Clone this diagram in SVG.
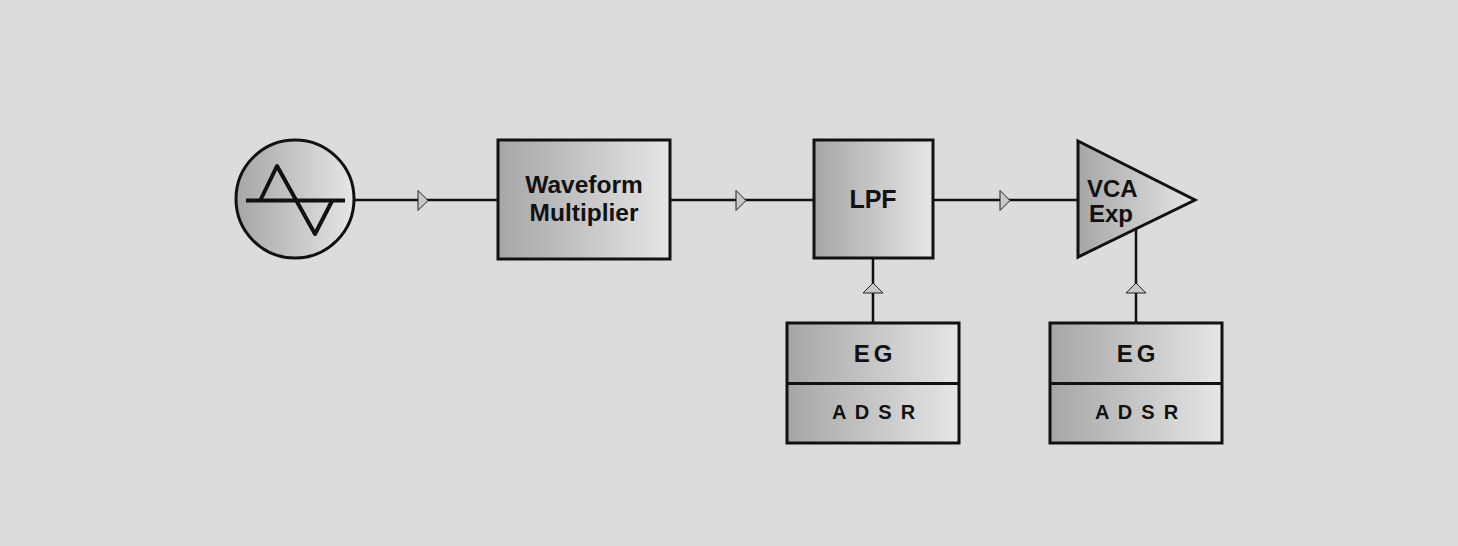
<svg xmlns="http://www.w3.org/2000/svg" width="1458" height="546" viewBox="0 0 1458 546">
<defs>
<linearGradient id="g" x1="0" y1="0" x2="1" y2="0">
<stop offset="0" stop-color="#a6a6a6"/>
<stop offset="1" stop-color="#e6e6e6"/>
</linearGradient>
<style>
.shape{fill:url(#g);stroke:#111;stroke-width:3}
.wire{fill:none;stroke:#111;stroke-width:2.5}
.arr{fill:#c8c8c8;stroke:#222;stroke-width:1}
.t{font-family:"Liberation Sans",Arial,sans-serif;font-weight:bold;fill:#111;text-anchor:middle}
</style>
</defs>
<rect width="1458" height="546" fill="#dcdcdc"/>
<g id="connectors">
<line class="wire" x1="355" y1="200" x2="498" y2="200"/>
<line class="wire" x1="670" y1="200" x2="814" y2="200"/>
<line class="wire" x1="933" y1="200" x2="1078" y2="200"/>
<line class="wire" x1="873" y1="258" x2="873" y2="323"/>
<line class="wire" x1="1136" y1="229" x2="1136" y2="323"/>
<polygon class="arr" points="418,190.5 428,200.5 418,210.5"/>
<polygon class="arr" points="736,190.5 746,200.5 736,210.5"/>
<polygon class="arr" points="1000,190.5 1010,200.5 1000,210.5"/>
<polygon class="arr" points="863,293 873,283 883,293"/>
<polygon class="arr" points="1126,293 1136,283 1146,293"/>
</g>
<g id="osc">
<circle class="shape" cx="295" cy="199" r="59"/>
<line x1="246" y1="200.5" x2="345" y2="200.5" stroke="#111" stroke-width="4"/>
<polyline points="260,201 277,166 315,234 332,201" fill="none" stroke="#111" stroke-width="4" stroke-linejoin="round"/>
</g>
<g id="waveform-multiplier">
<rect class="shape" x="498" y="140" width="172" height="119"/>
<text class="t" x="584" y="193" font-size="24.5">Waveform</text>
<text class="t" x="584" y="221" font-size="24.5">Multiplier</text>
</g>
<g id="lpf">
<rect class="shape" x="814" y="140" width="119" height="118"/>
<text class="t" x="873" y="208" font-size="25">LPF</text>
</g>
<g id="vca">
<polygon class="shape" points="1078,141 1195,200 1078,257"/>
<text class="t" x="1087" y="197" font-size="24" style="text-anchor:start">VCA</text>
<text class="t" x="1089" y="222" font-size="24" style="text-anchor:start">Exp</text>
</g>
<g id="eg1">
<rect class="shape" x="787" y="323" width="172" height="120"/>
<line x1="787" y1="383.5" x2="959" y2="383.5" stroke="#111" stroke-width="3"/>
<text class="t" x="875" y="362" font-size="24" letter-spacing="4">EG</text>
<text class="t" x="874.5" y="419" font-size="20" letter-spacing="1.8">A D S R</text>
</g>
<g id="eg2">
<rect class="shape" x="1050" y="323" width="172" height="120"/>
<line x1="1050" y1="383.5" x2="1222" y2="383.5" stroke="#111" stroke-width="3"/>
<text class="t" x="1138" y="362" font-size="24" letter-spacing="4">EG</text>
<text class="t" x="1137.5" y="419" font-size="20" letter-spacing="1.8">A D S R</text>
</g>
</svg>
